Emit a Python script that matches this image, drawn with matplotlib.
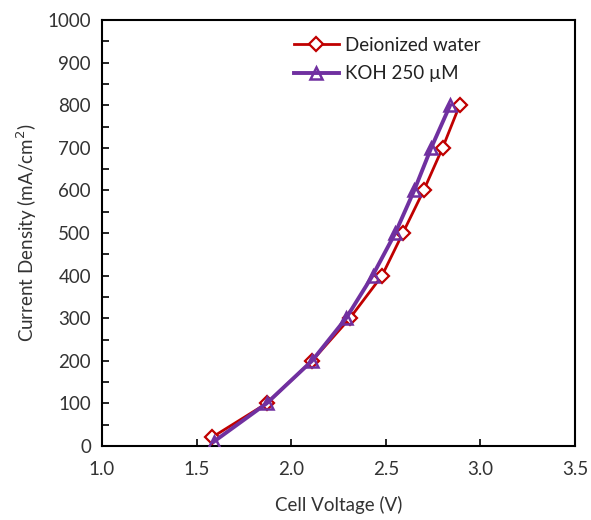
import matplotlib
matplotlib.use("Agg")
import matplotlib.pyplot as plt
from matplotlib.ticker import MultipleLocator, FormatStrFormatter

plt.rcParams['font.family'] = ['Lato', 'DejaVu Sans']

di_voltage = [1.58, 1.87, 2.11, 2.31, 2.48, 2.59, 2.70, 2.80, 2.89]
di_current = [20, 100, 200, 300, 400, 500, 600, 700, 800]
koh_voltage = [1.59, 1.87, 2.11, 2.29, 2.43, 2.55, 2.65, 2.74, 2.84]
koh_current = [10, 100, 200, 300, 400, 500, 600, 700, 800]

fig = plt.figure(figsize=(5.91, 5.20), dpi=100)
ax = fig.add_axes([0.1726, 0.1423, 0.8004, 0.8192])

ax.plot(di_voltage, di_current, color='#C00000', lw=2.0, marker='D', ms=7.5,
        mfc='white', mec='#C00000', mew=1.6, label='Deionized water', zorder=3)
ax.plot(koh_voltage, koh_current, color='#7030A0', lw=2.8, marker='^', ms=9,
        mfc='none', mec='#7030A0', mew=1.8, label='KOH 250 µM', zorder=4)

ax.set_xlim(1.0, 3.5)
ax.set_ylim(0, 1000)
ax.xaxis.set_major_locator(MultipleLocator(0.5))
ax.xaxis.set_major_formatter(FormatStrFormatter('%.1f'))
ax.yaxis.set_major_locator(MultipleLocator(100))
ax.yaxis.set_minor_locator(MultipleLocator(50))
ax.tick_params(axis='both', which='both', direction='in', length=5, width=1.2,
               labelsize=13.5, colors='black', labelcolor='#333333')
ax.tick_params(axis='x', pad=11)
ax.tick_params(axis='y', pad=8)
for s in ax.spines.values():
    s.set_linewidth(1.5)
    s.set_color('black')

ax.set_xlabel('Cell Voltage (V)', fontsize=13.5, labelpad=13, color='#333333')
ax.set_ylabel('Current Density (mA/cm$^{2}$)', fontsize=13.5, labelpad=6, color='#333333')

leg = ax.legend(loc='upper left', bbox_to_anchor=(0.37, 1.0), frameon=False,
                fontsize=13.5, handlelength=2.4, labelspacing=0.6, handletextpad=0.3)
for t in leg.get_texts():
    t.set_color('#222222')

fig.savefig('out.png', dpi=100)
